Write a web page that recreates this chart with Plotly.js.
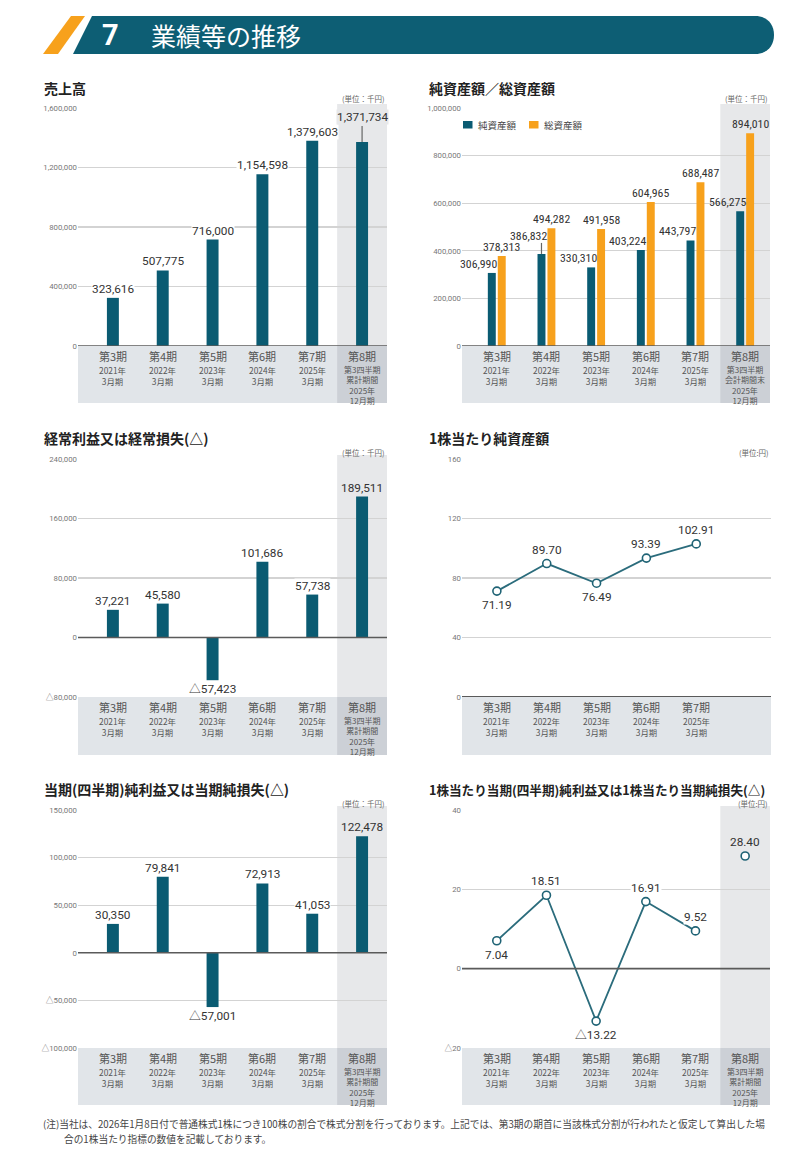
<!DOCTYPE html>
<html><head><meta charset="utf-8">
<script src="https://cdn.plot.ly/plotly-3.0.1.min.js"></script>
<style>html,body{margin:0;padding:0;background:#fff}#chart{width:800px;height:1162px}</style>
</head><body><div id="chart"></div>
<script>
// ---------------- data ----------------
const periods = ['第3期','第4期','第5期','第6期','第7期','第8期'];
const fiscalYears = ['2021年','2022年','2023年','2024年','2025年'];
const fiscalMonth = '3月期';
const q3Cumulative = ['第3四半期','累計期間','2025年','12月期'];
const q3PeriodEnd = ['第3四半期','会計期間末','2025年','12月期'];

const sales = [323616, 507775, 716000, 1154598, 1379603, 1371734];
const netAssets = [306990, 386832, 330310, 403224, 443797, 566275];
const totalAssets = [378313, 494282, 491958, 604965, 688487, 894010];
const ordinaryIncome = [37221, 45580, -57423, 101686, 57738, 189511];
const bookValuePerShare = [71.19, 89.70, 76.49, 93.39, 102.91];
const netIncome = [30350, 79841, -57001, 72913, 41053, 122478];
const epsLine = [7.04, 18.51, -13.22, 16.91, 9.52];
const epsQ3 = [28.40];

const salesTicks = [0, 400000, 800000, 1200000, 1600000];
const salesTickText = ['0','400,000','800,000','1,200,000','1,600,000'];
const assetTicks = [0, 200000, 400000, 600000, 800000, 1000000];
const assetTickText = ['0','200,000','400,000','600,000','800,000','1,000,000'];
const ordTicks = [-80000, 0, 80000, 160000, 240000];
const ordTickText = ['△80,000','0','80,000','160,000','240,000'];
const bpsTicks = [0, 40, 80, 120, 160];
const bpsTickText = ['0','40','80','120','160'];
const niTicks = [-100000, -50000, 0, 50000, 100000, 150000];
const niTickText = ['△100,000','△50,000','0','50,000','100,000','150,000'];
const epsTicks = [-20, 0, 20, 40];
const epsTickText = ['△20','0','20','40'];

const titles = ['売上高','純資産額／総資産額','経常利益又は経常損失(△)','1株当たり純資産額',
  '当期(四半期)純利益又は当期純損失(△)','1株当たり当期(四半期)純利益又は1株当たり当期純損失(△)'];
const unitYen1000 = '(単位：千円)';
const unitYen = '(単位:円)';
const legendNames = ['純資産額','総資産額'];
const headerNo = '7';
const headerText = '業績等の推移';
const note1 = '(注)当社は、2026年1月8日付で普通株式1株につき100株の割合で株式分割を行っております。上記では、第3期の期首に当該株式分割が行われたと仮定して算出した場';
const note2 = '合の1株当たり指標の数値を記載しております。';

// ---------------- style ----------------
const W = 800, H = 1162;
const px = x => x / W;
const py = y => 1 - y / H;
const NAVY = '#0a5b72', ORANGE = '#f7a11c';
const BAND = '#e1e5e9', BAND_HI = '#ccd0d6', PLOT_HI = '#e7e8ea';
const JP = '"Noto Sans CJK JP", "Noto Sans", sans-serif';
const NUM = 'Roboto, "Noto Sans", "Noto Sans CJK JP", sans-serif';
const NARROW = '"Liberation Sans Narrow", "Roboto Condensed", Roboto, sans-serif';
const NONE = 'rgba(0,0,0,0)';

const fmtInt = v => (v < 0 ? '△' : '') + Math.abs(v).toLocaleString('en-US');
const fmtDec = v => (v < 0 ? '△' : '') + Math.abs(v).toFixed(2);

const charts = [
  {x0:78, x1:387, y0:108, y1:346, band:403, range:[0,1600000], tv:salesTicks, tt:salesTickText, hi:true, sub8:q3Cumulative, tx:42, ty:88, tsize:14, unit:unitYen1000, uy:99},
  {x0:462, x1:770, y0:108, y1:346, band:403, range:[0,1000000], tv:assetTicks, tt:assetTickText, hi:true, sub8:q3PeriodEnd, tx:427, ty:88, tsize:14, unit:unitYen1000, uy:99},
  {x0:78, x1:387, y0:459, y1:697, band:755, range:[-80000,240000], tv:ordTicks, tt:ordTickText, hi:true, sub8:q3Cumulative, tx:42, ty:438, tsize:14, unit:unitYen1000, uy:452},
  {x0:462, x1:771, y0:459, y1:697, band:755, range:[0,160], tv:bpsTicks, tt:bpsTickText, hi:false, sub8:null, tx:427, ty:438, tsize:14, unit:unitYen, uy:452},
  {x0:78, x1:387, y0:810, y1:1048, band:1105, range:[-100000,150000], tv:niTicks, tt:niTickText, hi:true, sub8:q3Cumulative, tx:42, ty:789, tsize:14, unit:unitYen1000, uy:803},
  {x0:462, x1:770, y0:810, y1:1048, band:1105, range:[-20,40], tv:epsTicks, tt:epsTickText, hi:true, sub8:q3Cumulative, tx:427, ty:789, tsize:12.6, unit:unitYen, uy:803}
];

const layout = {
  width: W, height: H, margin: {l:0, r:0, t:0, b:0},
  paper_bgcolor: '#fff', plot_bgcolor: NONE,
  showlegend: false, barmode: 'overlay', hovermode: false,
  font: {family: JP, color: '#444'},
  shapes: [], annotations: []
};
const S = layout.shapes, A = layout.annotations;

charts.forEach((c, i) => {
  const n = i === 0 ? '' : String(i + 1);
  c.xr = 'x' + n; c.yr = 'y' + n;
  c.dpp = (c.range[1] - c.range[0]) / (c.y1 - c.y0);
  layout['xaxis' + n] = {
    domain: [px(c.x0), px(c.x1)], anchor: c.yr, type: 'category',
    categoryorder: 'array', categoryarray: periods, range: [-0.7, 5.5],
    showticklabels: false, showgrid: false, zeroline: false, showline: false, ticks: '', fixedrange: true
  };
  layout['yaxis' + n] = {
    domain: [py(c.y1), py(c.y0)], anchor: c.xr, range: c.range,
    tickmode: 'array', tickvals: c.tv, ticktext: c.tt, ticks: '',
    tickfont: {family: NUM, size: 7.8, color: '#777'},
    showgrid: true, gridcolor: '#d3d3d3', gridwidth: 1.2,
    zeroline: false, showline: false, fixedrange: true
  };
  // bands
  S.push({type:'rect', xref:'paper', yref:'paper', x0:px(c.x0), x1:px(c.x1), y0:py(c.band), y1:py(c.y1),
    fillcolor:BAND, line:{width:0}, layer:'below'});
  if (c.hi) {
    S.push({type:'rect', xref:c.xr, yref:'paper', x0:4.5, x1:5.5, y0:py(c.band), y1:py(c.y1),
      fillcolor:BAND_HI, line:{width:0}, layer:'below'});
    S.push({type:'rect', xref:c.xr, yref:'paper', x0:4.5, x1:5.5, y0:py(c.y1), y1:py(c.y0 - 4),
      fillcolor:PLOT_HI, line:{width:0}, layer:'below'});
  }
  // baseline at zero (axis line)
  S.push({type:'line', xref:'paper', yref:c.yr, x0:px(c.x0), x1:px(c.x1), y0:0, y1:0,
    line:{color:'#5a5a5a', width: i === 3 ? 2.2 : 1.6}, layer:'above'});
  // title + unit
  A.push({xref:'paper', yref:'paper', x:px(c.tx), y:py(c.ty), xanchor:'left', yanchor:'middle', showarrow:false,
    text:titles[i], font:{family:JP, size:c.tsize, color:'#222', weight:700}});
  A.push({xref:'paper', yref:'paper', x:px(c.x1), y:py(c.uy), xanchor:'right', yanchor:'middle', showarrow:false,
    text:c.unit, font:{family:JP, size:7.5, color:'#666'}});
  // category labels: period name, then a block of sub-lines
  const T = c.y1;
  periods.forEach((p, k) => {
    if (k === 5 && !c.sub8) return;
    A.push({xref:c.xr, yref:'paper', x:k, y:py(T + 10), showarrow:false, xanchor:'center', yanchor:'middle',
      borderpad:0, text:p, font:{family:JP, size:11, color:'#555'}});
    const sub = k < 5 ? [fiscalYears[k], fiscalMonth] : c.sub8;
    A.push({xref:c.xr, yref:'paper', x:k, y:py(T + 17.3), showarrow:false, xanchor:'center', yanchor:'top',
      borderpad:0, text: sub.join('<br>'),
      font:{family:JP, size: k < 5 ? 8.4 : 8.0, color:'#555'}});
  });
});

function label(c, x, y, text, opts) {
  opts = opts || {};
  const up = y >= 0;
  const k = Math.round(x);
  A.push({xref:c.xr, yref:c.yr, x:x, y:y, showarrow:false, text:text,
    xanchor:'center', yanchor: up ? 'bottom' : 'top',
    yshift: (up ? 1 : -1) * (opts.shift !== undefined ? opts.shift : 1),
    xshift: opts.xshift || 0,
    bgcolor: opts.bg !== undefined ? opts.bg : ((c.hi && k === 5) ? PLOT_HI : '#fff'), borderpad: 0,
    font:{family: opts.family || NUM, size: opts.size || 11.8, color:'#333'}});
}
function ptLabel(c, x, y, text, up) {
  const k = Math.round(x);
  A.push({xref:c.xr, yref:c.yr, x:x, y:y, showarrow:false, text:text,
    xanchor:'center', yanchor:'middle', yshift: up ? 14 : -14,
    bgcolor: (c.hi && k === 5) ? PLOT_HI : '#fff', borderpad: 0,
    font:{family:NUM, size:11.8, color:'#333'}});
}

const traces = [];
// Chart 1: sales
const c1 = charts[0];
traces.push({type:'bar', x:periods, y:sales, xaxis:c1.xr, yaxis:c1.yr, width:0.24, marker:{color:NAVY, line:{width:0}}});
sales.forEach((v, k) => {
  if (k === 5) {
    label(c1, k, v, fmtInt(v), {shift:17});
    S.push({type:'line', xref:c1.xr, yref:c1.yr, x0:k, x1:k, y0:v, y1:v + 16 * c1.dpp, line:{color:'#666', width:1.2}});
  } else label(c1, k, v, fmtInt(v));
});

// Chart 2: net assets / total assets
const c2 = charts[1];
traces.push({type:'bar', x:periods, y:netAssets, xaxis:c2.xr, yaxis:c2.yr, width:0.16, offset:-0.18, marker:{color:NAVY, line:{width:0}}});
traces.push({type:'bar', x:periods, y:totalAssets, xaxis:c2.xr, yaxis:c2.yr, width:0.16, offset:0.02, marker:{color:ORANGE, line:{width:0}}});
const c2font = {family: NARROW, size: 11.8};
netAssets.forEach((v, k) => {
  if (k === 1) {
    label(c2, k - 0.1, v, fmtInt(v), Object.assign({shift:10, xshift:-13, bg:NONE}, c2font));
    S.push({type:'line', xref:c2.xr, yref:c2.yr, x0:k - 0.1, x1:k - 0.1, y0:v, y1:v + 11 * c2.dpp, line:{color:'#666', width:1.2}});
  } else label(c2, k - 0.1, v, fmtInt(v), Object.assign({xshift:-13, bg:NONE}, c2font));
});
totalAssets.forEach((v, k) => label(c2, k + 0.1, v, fmtInt(v), Object.assign({bg: k === 5 ? PLOT_HI : NONE}, c2font)));
// legend
[[NAVY, 463, 476], [ORANGE, 529, 542]].forEach((l, j) => {
  S.push({type:'rect', xref:'paper', yref:'paper', x0:px(l[1]), x1:px(l[1] + 9.5), y0:py(128.5), y1:py(121), fillcolor:l[0], line:{width:0}});
  A.push({xref:'paper', yref:'paper', x:px(l[2]), y:py(125), xanchor:'left', yanchor:'middle', showarrow:false,
    text:legendNames[j], font:{family:JP, size:9.5, color:'#444'}});
});

// Chart 3: ordinary income
const c3 = charts[2];
traces.push({type:'bar', x:periods, y:ordinaryIncome, xaxis:c3.xr, yaxis:c3.yr, width:0.24, marker:{color:NAVY, line:{width:0}}});
ordinaryIncome.forEach((v, k) => label(c3, k, v, fmtInt(v)));

// Chart 4: BPS
const c4 = charts[3];
traces.push({type:'scatter', mode:'lines+markers', x:periods.slice(0, 5), y:bookValuePerShare, xaxis:c4.xr, yaxis:c4.yr,
  line:{color:'#2b6c7c', width:1.8}, marker:{size:8, color:'#fff', line:{color:'#1f6375', width:1.6}}, cliponaxis:false});
const bpsUp = [false, true, false, true, true];
bookValuePerShare.forEach((v, k) => ptLabel(c4, k, v, fmtDec(v), bpsUp[k]));

// Chart 5: net income
const c5 = charts[4];
traces.push({type:'bar', x:periods, y:netIncome, xaxis:c5.xr, yaxis:c5.yr, width:0.24, marker:{color:NAVY, line:{width:0}}});
netIncome.forEach((v, k) => label(c5, k, v, fmtInt(v)));

// Chart 6: EPS
const c6 = charts[5];
traces.push({type:'scatter', mode:'lines+markers', x:periods.slice(0, 5), y:epsLine, xaxis:c6.xr, yaxis:c6.yr,
  line:{color:'#2b6c7c', width:1.8}, marker:{size:8, color:'#fff', line:{color:'#1f6375', width:1.6}}, cliponaxis:false});
traces.push({type:'scatter', mode:'markers', x:periods.slice(5), y:epsQ3, xaxis:c6.xr, yaxis:c6.yr,
  marker:{size:8, color:'#fff', line:{color:'#1f6375', width:1.6}}, cliponaxis:false});
const epsUp = [false, true, false, true, true];
epsLine.forEach((v, k) => ptLabel(c6, k, v, fmtDec(v), epsUp[k]));
epsQ3.forEach(v => ptLabel(c6, 5, v, fmtDec(v), true));

// ---------------- header ----------------
const P = (x, y) => px(x) + ',' + py(y);
S.push({type:'path', xref:'paper', yref:'paper', path: 'M' + P(71,16) + ' L' + P(85,16) + ' L' + P(58,54) + ' L' + P(43,54) + ' Z',
  fillcolor:ORANGE, line:{width:0}});
S.push({type:'path', xref:'paper', yref:'paper',
  path: 'M' + P(92,16) + ' L' + P(755,16) + ' C' + P(767,16) + ' ' + P(774,24) + ' ' + P(774,35) +
        ' C' + P(774,46) + ' ' + P(767,54) + ' ' + P(755,54) + ' L' + P(73,54) + ' Z',
  fillcolor:'#0d5e74', line:{width:0}});
A.push({xref:'paper', yref:'paper', x:px(100), y:py(35), xanchor:'left', yanchor:'middle', showarrow:false,
  text:headerNo, font:{family:NUM, size:29, color:'#fff', weight:700}});
A.push({xref:'paper', yref:'paper', x:px(149), y:py(35), xanchor:'left', yanchor:'middle', showarrow:false,
  text:headerText, font:{family:JP, size:25, color:'#fff'}});

// ---------------- footnote ----------------
A.push({xref:'paper', yref:'paper', x:px(41), y:py(1124), xanchor:'left', yanchor:'middle', showarrow:false,
  text:note1, font:{family:JP, size:9.7, color:'#444'}});
A.push({xref:'paper', yref:'paper', x:px(62), y:py(1139), xanchor:'left', yanchor:'middle', showarrow:false,
  text:note2, font:{family:JP, size:9.7, color:'#444'}});

Plotly.newPlot('chart', traces, layout, {staticPlot:true, displayModeBar:false});
</script>
</body></html>
